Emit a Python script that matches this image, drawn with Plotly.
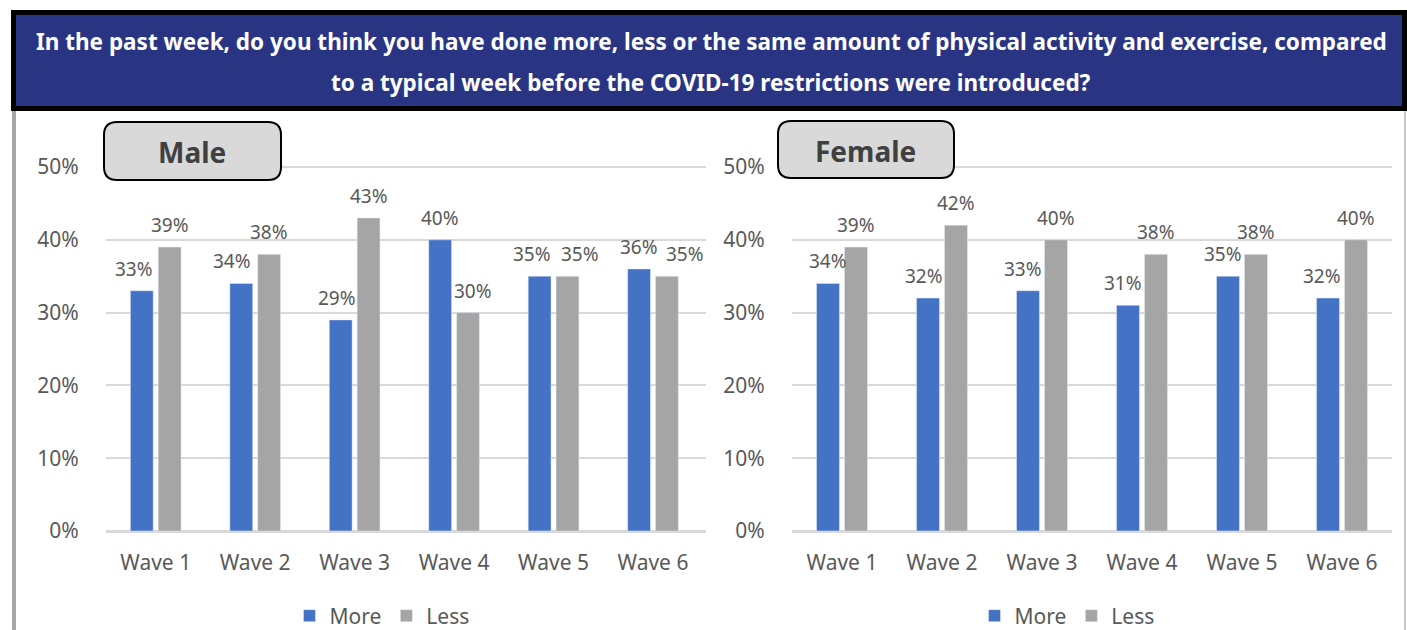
import plotly.graph_objects as go

W, H = 1407, 630

# Survey data (share of respondents)
waves = ["Wave 1", "Wave 2", "Wave 3", "Wave 4", "Wave 5", "Wave 6"]
male_more = [0.33, 0.34, 0.29, 0.40, 0.35, 0.36]
male_less = [0.39, 0.38, 0.43, 0.30, 0.35, 0.35]
female_more = [0.34, 0.32, 0.33, 0.31, 0.35, 0.32]
female_less = [0.39, 0.42, 0.40, 0.38, 0.38, 0.40]

# horizontal nudges (px) of the value labels relative to their bars
male_more_dx = [-8, -9, -4, 0, -8, 0]
male_less_dx = [0, 0, 0, 5, 12, 18]
female_more_dx = [0, -4, -5, -5, -5, -6]
female_less_dx = [0, 0, 0, 0, 0, 0]

title_lines = [
    "In the past week, do you think you have done more, less or the same amount of physical activity and exercise, compared",
    "to a typical week before the COVID-19 restrictions were introduced?",
]

BLUE = "#4472C4"
GREY = "#A5A5A5"
TXT = "#595959"
FONT = "Noto Sans"


def px(x):
    return x / W


def py(y):
    return 1 - y / H


fig = go.Figure()

panels = [
    ("x", "y", "legend", male_more, male_less, male_more_dx, male_less_dx),
    ("x2", "y2", "legend2", female_more, female_less, female_more_dx, female_less_dx),
]
for xa, ya, lg, more, less, more_dx, less_dx in panels:
    for name, vals, col, base_shift, dxs in (("More", more, BLUE, -14, more_dx),
                                              ("Less", less, GREY, 14, less_dx)):
        fig.add_trace(go.Bar(
            x=waves, y=vals, name=name, marker_color=col,
            xaxis=xa, yaxis=ya, legend=lg, offsetgroup=name,
        ))
        # value labels above each bar
        for w, v, dx in zip(waves, vals, dxs):
            fig.add_annotation(
                x=w, y=v, xref=xa, yref=ya, text=f"{round(v * 100)}%",
                showarrow=False, xshift=base_shift + dx, yshift=7, yanchor="bottom",
                font=dict(family=FONT, size=19, color=TXT),
            )

yrange = [0, 0.505]
ydom = [py(531), py(531 - 72.8 * 5.05)]

axis_common = dict(
    showgrid=False, zeroline=False, showline=False, ticks="outside",
    ticklen=13, tickcolor="rgba(0,0,0,0)", automargin=False,
    tickfont=dict(family=FONT, size=21, color=TXT),
)
yaxis_common = dict(
    range=yrange, domain=ydom, tickvals=[0, 0.1, 0.2, 0.3, 0.4, 0.5],
    tickformat=".0%", showgrid=True, gridcolor="#D9D9D9", gridwidth=2,
    zeroline=True, zerolinecolor="#D9D9D9", zerolinewidth=3,
    ticks="outside", ticklen=22, tickcolor="rgba(0,0,0,0)", automargin=False,
    tickfont=dict(family=FONT, size=21, color=TXT), showline=False,
)

legend_common = dict(orientation="h", xanchor="center", yanchor="middle",
                     font=dict(family=FONT, size=21, color=TXT), itemwidth=30,
                     bgcolor="rgba(0,0,0,0)")

fig.update_layout(
    width=W, height=H,
    margin=dict(l=0, r=0, t=0, b=0, autoexpand=False),
    paper_bgcolor="white", plot_bgcolor="white",
    barmode="group", bargap=0.44, bargroupgap=0.18,
    xaxis=dict(domain=[px(106), px(706)], anchor="y", **axis_common),
    yaxis=dict(anchor="x", **yaxis_common),
    xaxis2=dict(domain=[px(792), px(1392)], anchor="y2", **axis_common),
    yaxis2=dict(anchor="x2", **yaxis_common),
    legend=dict(x=px(382), y=py(616), **legend_common),
    legend2=dict(x=px(1067), y=py(616), **legend_common),
    showlegend=True,
)

shapes = []
# outer light frame around the two charts
shapes.append(dict(type="line", xref="paper", yref="paper", x0=px(14), x1=px(14),
                   y0=py(111), y1=py(640), line=dict(color="#A6A6A6", width=4)))
shapes.append(dict(type="line", xref="paper", yref="paper", x0=px(1405), x1=px(1405),
                   y0=py(111), y1=py(640), line=dict(color="#C8C8C8", width=2)))
# header band
shapes.append(dict(type="rect", xref="paper", yref="paper",
                   x0=px(13.5), x1=px(1404.5), y0=py(108.5), y1=py(12.5),
                   fillcolor="#293583", line=dict(color="black", width=5), layer="above"))


def rounded_box(x0, y0, x1, y1, r):
    pts = (
        f"M {px(x0 + r)},{py(y0)} L {px(x1 - r)},{py(y0)} "
        f"Q {px(x1)},{py(y0)} {px(x1)},{py(y0 + r)} "
        f"L {px(x1)},{py(y1 - r)} Q {px(x1)},{py(y1)} {px(x1 - r)},{py(y1)} "
        f"L {px(x0 + r)},{py(y1)} Q {px(x0)},{py(y1)} {px(x0)},{py(y1 - r)} "
        f"L {px(x0)},{py(y0 + r)} Q {px(x0)},{py(y0)} {px(x0 + r)},{py(y0)} Z"
    )
    return dict(type="path", xref="paper", yref="paper", path=pts,
                fillcolor="#D9D9D9", line=dict(color="black", width=2), layer="above")


shapes.append(rounded_box(104, 122, 281, 180, 13))
shapes.append(rounded_box(778, 121, 954, 178, 13))
fig.update_layout(shapes=shapes)

for txt, y in zip(title_lines, (42, 83)):
    fig.add_annotation(x=px(711), y=py(y), xref="paper", yref="paper", text=f"<b>{txt}</b>",
                       showarrow=False, xanchor="center", yanchor="middle",
                       font=dict(family=FONT, size=22.5, color="white"))

for txt, cx, cy in (("Male", 192, 152), ("Female", 865, 151)):
    fig.add_annotation(x=px(cx), y=py(cy), xref="paper", yref="paper", text=f"<b>{txt}</b>",
                       showarrow=False, xanchor="center", yanchor="middle",
                       font=dict(family=FONT, size=28, color="#404040"))

fig.write_html("out.html")
